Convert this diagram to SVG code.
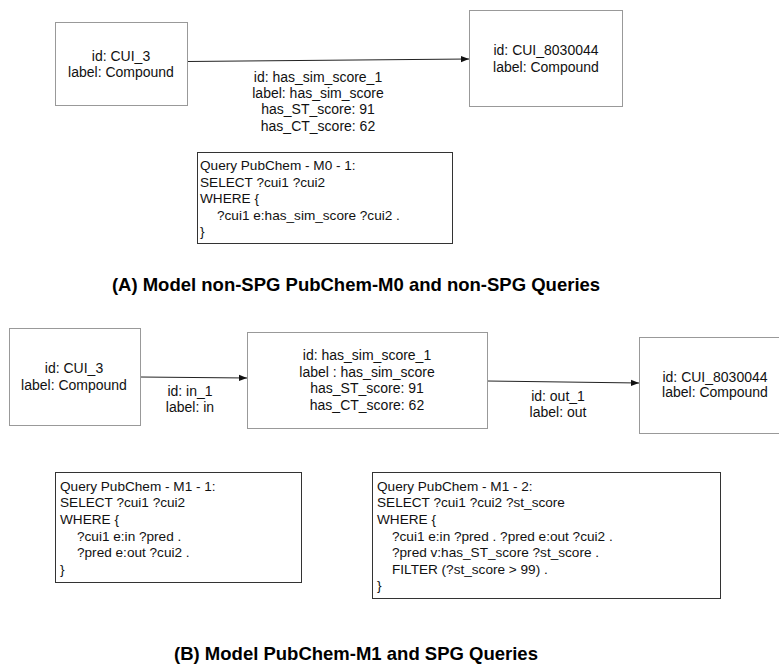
<svg xmlns="http://www.w3.org/2000/svg" width="779" height="665" viewBox="0 0 779 665">
<style>
text{font-family:"Liberation Sans",Arial,sans-serif;font-size:14px;fill:#111}
.c{text-anchor:middle}
.qt{font-size:13.6px}
.t{font-weight:bold;font-size:18.5px;text-anchor:middle;fill:#000}
.node{fill:#fff;stroke:#999;stroke-width:1}
.q{fill:#fff;stroke:#333;stroke-width:1}
.e{fill:none;stroke:#222;stroke-width:1}
</style>
<defs>
<marker id="ah" viewBox="0 0 10 10" refX="10" refY="5" markerWidth="8" markerHeight="8" markerUnits="userSpaceOnUse" orient="auto">
<path d="M0,1 L10,5 L0,9 z" fill="#111"/>
</marker>
</defs>
<g id="connectors">
<line class="e" x1="187" y1="61.5" x2="469" y2="59" marker-end="url(#ah)"/>
<line class="e" x1="140" y1="377" x2="247" y2="378" marker-end="url(#ah)"/>
<line class="e" x1="487" y1="381" x2="639" y2="383" marker-end="url(#ah)"/>
</g>
<g id="edge-labels">
<text class="c" x="318" y="82">id: has_sim_score_1</text>
<text class="c" x="318" y="98">label: has_sim_score</text>
<text class="c" x="318" y="114">has_ST_score: 91</text>
<text class="c" x="318" y="131">has_CT_score: 62</text>
<text class="c" x="190" y="396">id: in_1</text>
<text class="c" x="190" y="412">label: in</text>
<text class="c" x="558" y="401">id: out_1</text>
<text class="c" x="558" y="417">label: out</text>
</g>
<g id="a-cui3">
<rect class="node" x="55.5" y="22.5" width="132" height="83"/>
<text class="c" x="121" y="61">id: CUI_3</text>
<text class="c" x="121" y="77">label: Compound</text>
</g>
<g id="a-cui8030044">
<rect class="node" x="469.5" y="10.5" width="153" height="96"/>
<text class="c" x="546" y="55">id: CUI_8030044</text>
<text class="c" x="546" y="72">label: Compound</text>
</g>
<g id="q-m0-1" class="qt">
<rect class="q" x="197.5" y="152.5" width="255" height="91"/>
<text class="qt" x="200" y="170">Query PubChem - M0 - 1:</text>
<text class="qt" x="200" y="187">SELECT ?cui1 ?cui2</text>
<text class="qt" x="200" y="203">WHERE {</text>
<text class="qt" x="217" y="220">?cui1 e:has_sim_score ?cui2 .</text>
<text class="qt" x="200" y="236">}</text>
</g>
<text class="t" x="356" y="291">(A) Model non-SPG PubChem-M0 and non-SPG Queries</text>
<g id="b-cui3">
<rect class="node" x="9.5" y="328.5" width="131" height="97"/>
<text class="c" x="74" y="373">id: CUI_3</text>
<text class="c" x="74" y="390">label: Compound</text>
</g>
<g id="b-has-sim-score-1">
<rect class="node" x="247.5" y="332.5" width="240" height="96"/>
<text class="c" x="367" y="360">id: has_sim_score_1</text>
<text class="c" x="367" y="377">label : has_sim_score</text>
<text class="c" x="367" y="393">has_ST_score: 91</text>
<text class="c" x="367" y="410">has_CT_score: 62</text>
</g>
<g id="b-cui8030044">
<rect class="node" x="639.5" y="337.5" width="145" height="96"/>
<text class="c" x="715" y="382">id: CUI_8030044</text>
<text class="c" x="715" y="397">label: Compound</text>
</g>
<g id="q-m1-1">
<rect class="q" x="55.5" y="472.5" width="246" height="110"/>
<text class="qt" x="60" y="491">Query PubChem - M1 - 1:</text>
<text class="qt" x="60" y="507">SELECT ?cui1 ?cui2</text>
<text class="qt" x="60" y="524">WHERE {</text>
<text class="qt" x="77" y="541">?cui1 e:in ?pred .</text>
<text class="qt" x="77" y="557">?pred e:out ?cui2 .</text>
<text class="qt" x="60" y="574">}</text>
</g>
<g id="q-m1-2">
<rect class="q" x="372.5" y="472.5" width="348" height="126"/>
<text class="qt" x="377" y="491">Query PubChem - M1 - 2:</text>
<text class="qt" x="377" y="507">SELECT ?cui1 ?cui2 ?st_score</text>
<text class="qt" x="377" y="524">WHERE {</text>
<text class="qt" x="392" y="541">?cui1 e:in ?pred . ?pred e:out ?cui2 .</text>
<text class="qt" x="392" y="557">?pred v:has_ST_score ?st_score .</text>
<text class="qt" x="392" y="574">FILTER (?st_score &gt; 99) .</text>
<text class="qt" x="377" y="590">}</text>
</g>
<text class="t" x="356" y="660">(B) Model PubChem-M1 and SPG Queries</text>
</svg>
